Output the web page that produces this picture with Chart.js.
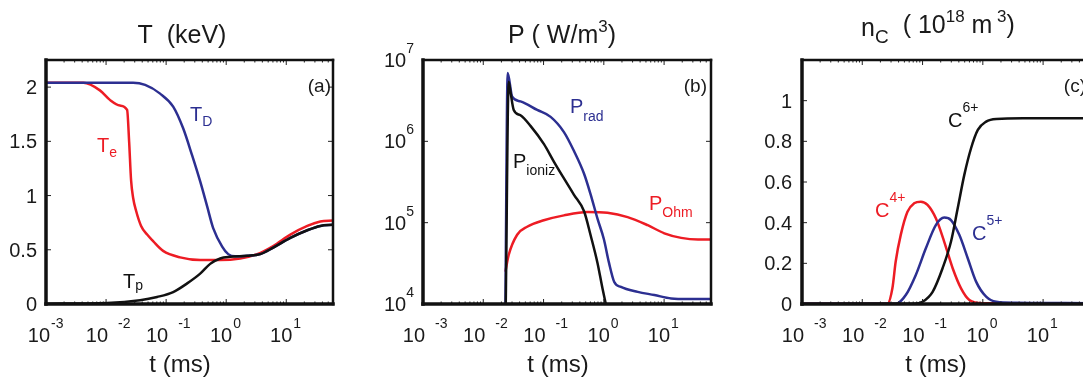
<!DOCTYPE html>
<html>
<head>
<meta charset="utf-8">
<title>T, P and n_C versus t</title>
<script src="https://cdn.jsdelivr.net/npm/chart.js@4.4.1/dist/chart.umd.min.js"></script>
<style>
  html, body { margin: 0; padding: 0; background: #fff; width: 1083px; height: 388px; overflow: hidden; position: relative; }
  canvas { position: absolute; top: 0; }
</style>
</head>
<body>
<canvas id="panelA" width="361" height="388" style="left:0px"></canvas>
<canvas id="panelB" width="361" height="388" style="left:361px"></canvas>
<canvas id="panelC" width="400" height="388" style="left:722px"></canvas>
<script>
// shared x axis (t in ms, log)
const xTicks = [0.001, 0.01, 0.1, 1, 10];
const xTickExps = ['-3', '-2', '-1', '0', '1'];
const tMin = 0.001, tMax = 60;

// (a) temperatures, keV
const tTe = [0.001, 0.0042, 0.0079, 0.0117, 0.017, 0.0224, 0.0242, 0.0261, 0.0282, 0.0316, 0.0383, 0.0483, 0.0607, 0.089, 0.171, 0.369, 0.79, 1.71, 3.29, 6.07, 11.7, 22.4, 36.9, 60];
const Te  = [2.04, 2.04, 1.97, 1.88, 1.83, 1.79, 1.5, 1.14, 0.98, 0.86, 0.72, 0.64, 0.58, 0.49, 0.43, 0.405, 0.405, 0.42, 0.46, 0.535, 0.64, 0.72, 0.76, 0.77];
const tTD = [0.001, 0.0282, 0.0447, 0.0794, 0.131, 0.192, 0.271, 0.369, 0.482, 0.607, 0.857, 1.08, 1.41, 2.24, 3.69, 6.07, 11.7, 22.4, 36.9, 60];
const TD  = [2.04, 2.04, 2.02, 1.94, 1.82, 1.62, 1.37, 1.13, 0.9, 0.7, 0.53, 0.46, 0.44, 0.445, 0.46, 0.52, 0.61, 0.68, 0.72, 0.73];
const tTp = [0.001, 0.0104, 0.0369, 0.0708, 0.131, 0.224, 0.369, 0.541, 0.794, 1.17, 2.24, 3.69, 6.07, 11.7, 22.4, 36.9, 60];
const Tp  = [0.003, 0.01, 0.035, 0.065, 0.11, 0.19, 0.28, 0.37, 0.42, 0.435, 0.445, 0.46, 0.52, 0.61, 0.68, 0.72, 0.73];
const yTicksA = [0, 0.5, 1, 1.5, 2];
const yLabelsA = ['0', '0.5', '1', '1.5', '2'];

// (b) power densities, W/m^3
const tPrad = [0.0233, 0.0254, 0.0301, 0.0414, 0.0785, 0.131, 0.218, 0.32, 0.47, 0.607, 0.785, 1.0, 1.22, 1.49, 1.92, 3.65, 6.89, 13.1, 24.8, 60];
const Prad  = [1e4, 6.9e6, 3.55e6, 3.1e6, 2.43e6, 2.0e6, 1.3e6, 7.6e5, 4.0e5, 2.2e5, 1.12e5, 6.3e4, 3.2e4, 1.86e4, 1.62e4, 1.41e4, 1.29e4, 1.17e4, 1.15e4, 1.15e4];
const tPion = [0.0236, 0.0264, 0.0282, 0.032, 0.0414, 0.0607, 0.101, 0.149, 0.218, 0.32, 0.47, 0.607, 0.785, 0.951, 1.08];
const Pion  = [1e4, 5.4e6, 4.1e6, 2.43e6, 2.09e6, 1.55e6, 9.3e5, 5.6e5, 3.5e5, 2.2e5, 1.38e5, 6.9e4, 3.2e4, 1.55e4, 1.0e4];
const tPohm = [0.0233, 0.0264, 0.0365, 0.0535, 0.101, 0.218, 0.535, 1.15, 2.48, 5.35, 10.1, 19.2, 36.5, 60];
const Pohm  = [2.5e4, 4.0e4, 7.1e4, 8.9e4, 1.07e5, 1.23e5, 1.35e5, 1.32e5, 1.17e5, 9.3e4, 7.4e4, 6.5e4, 6.2e4, 6.2e4];
const yTicksB = [1e4, 1e5, 1e6, 1e7];
const yExpsB = ['4', '5', '6', '7'];

// (c) carbon charge states, 10^18 m^-3
const tC4 = [0.001, 0.0261, 0.0316, 0.0359, 0.0435, 0.0562, 0.0724, 0.0937, 0.121, 0.167, 0.229, 0.316, 0.435, 0.598, 1.0, 60];
const C4  = [0.001, 0.001, 0.077, 0.21, 0.34, 0.454, 0.495, 0.503, 0.487, 0.42, 0.306, 0.176, 0.077, 0.02, 0.004, 0.002];
const tC5 = [0.001, 0.0359, 0.0527, 0.0773, 0.1135, 0.167, 0.229, 0.296, 0.407, 0.562, 0.773, 1.135, 1.667, 3.59, 60];
const C5  = [0.001, 0.001, 0.044, 0.143, 0.274, 0.389, 0.425, 0.413, 0.34, 0.225, 0.11, 0.036, 0.011, 0.006, 0.004];
const tC6 = [0.001, 0.0724, 0.1, 0.147, 0.215, 0.296, 0.383, 0.493, 0.638, 0.826, 1.135, 1.667, 4.64, 60];
const C6  = [0, 0.001, 0.011, 0.06, 0.176, 0.306, 0.471, 0.635, 0.766, 0.856, 0.897, 0.91, 0.913, 0.913];
const yTicksC = [0, 0.2, 0.4, 0.6, 0.8, 1];
const yLabelsC = ['0', '0.2', '0.4', '0.6', '0.8', '1'];

const FONT = '"Liberation Sans", Arial, Helvetica, sans-serif';
const RED = 'rgb(237,28,36)', BLUE = 'rgb(44,47,145)', BLACK = '#111111', TEXT = '#1a1a1a';

function pts(ts, vs) { return ts.map((t, i) => ({ x: t, y: vs[i] })); }

// draws pieces of text [text, size, dy] one after the other
function drawRuns(ctx, x, y, runs, color, align) {
  let w = 0;
  for (const r of runs) { ctx.font = r[1] + 'px ' + FONT; w += ctx.measureText(r[0]).width; }
  if (align === 'center') x -= w / 2;
  if (align === 'right') x -= w;
  ctx.fillStyle = color;
  ctx.textAlign = 'left';
  ctx.textBaseline = 'alphabetic';
  for (const r of runs) {
    ctx.font = r[1] + 'px ' + FONT;
    ctx.fillText(r[0], x, y + (r[2] || 0));
    x += ctx.measureText(r[0]).width;
  }
}

// per panel text, positions are canvas pixels
const panels = {
  panelA: {
    title: [['T  (keV)', 25]], titleX: 182, titleY: 43,
    yTicks: yTicksA, yRuns: yLabelsA.map(s => [[s, 20]]), yRight: 37,
    xTitleX: 180, tag: ['(a)', 331, 92], firstLabelTight: true,
    notes: [
      { x: 190, y: 121, c: BLUE, runs: [['T', 20], ['D', 14, 5]] },
      { x: 97, y: 152, c: RED, runs: [['T', 20], ['e', 14, 5]] },
      { x: 123, y: 288, c: BLACK, runs: [['T', 20], ['p', 14, 2]] }
    ]
  },
  panelB: {
    title: [['P ( W/m', 25], ['3', 17, -11], [')', 25]], titleX: 201, titleY: 43,
    yTicks: yTicksB, yRuns: yExpsB.map(e => [['10', 20], [e, 14, -14]]), yRight: 53,
    xTitleX: 197, tag: ['(b)', 346, 92],
    notes: [
      { x: 209, y: 113, c: BLUE, runs: [['P', 20], ['rad', 14, 8]] },
      { x: 152, y: 168, c: BLACK, runs: [['P', 20], ['ioniz', 14, 7]] },
      { x: 288, y: 210, c: RED, runs: [['P', 20], ['Ohm', 14, 7]] }
    ]
  },
  panelC: {
    title: [['n', 25, 3], ['C', 19, 10], ['  ( 10', 25], ['18', 17, -11], [' m', 25], [' 3', 17, -11], [')', 25]],
    titleX: 216, titleY: 33,
    yTicks: yTicksC, yRuns: yLabelsC.map(s => [[s, 20]]), yRight: 70,
    xTitleX: 214, tag: ['(c)', 364, 92],
    notes: [
      { x: 226, y: 127, c: BLACK, runs: [['C', 20], ['6+', 14, -15]] },
      { x: 153, y: 217, c: RED, runs: [['C', 20], ['4+', 14, -15]] },
      { x: 250, y: 240, c: BLUE, runs: [['C', 20], ['5+', 14, -15]] }
    ]
  }
};

function line(ctx, x1, y1, x2, y2) { ctx.beginPath(); ctx.moveTo(x1, y1); ctx.lineTo(x2, y2); ctx.stroke(); }

const matlabBox = {
  id: 'matlabBox',
  afterDraw(chart) {
    const p = panels[chart.canvas.id];
    const { ctx, chartArea: a, scales: { x, y } } = chart;
    ctx.save();
    // tick marks, inside the box
    ctx.strokeStyle = '#222'; ctx.lineWidth = 1;
    for (let d = 0.001; d < tMax; d *= 10) {
      for (let k = 2; k <= 9; k++) {
        const v = k * d;
        if (v >= tMax) break;
        const px = x.getPixelForValue(v);
        line(ctx, px, a.bottom, px, a.bottom - 2.5);
        line(ctx, px, a.top, px, a.top + 2.5);
      }
    }
    xTicks.forEach(v => {
      const px = x.getPixelForValue(v);
      line(ctx, px, a.bottom, px, a.bottom - 5);
      line(ctx, px, a.top, px, a.top + 5);
    });
    p.yTicks.forEach(v => {
      const py = y.getPixelForValue(v);
      line(ctx, a.left, py, a.left + 5, py);
      line(ctx, a.right, py, a.right - 5, py);
    });
    // box
    ctx.strokeStyle = '#111'; ctx.lineCap = 'square';
    ctx.lineWidth = 3.5;
    line(ctx, a.left, a.top, a.left, a.bottom);
    line(ctx, a.left, a.bottom, a.right, a.bottom);
    ctx.lineWidth = 2.5;
    line(ctx, a.left, a.top, a.right, a.top);
    line(ctx, a.right, a.top, a.right, a.bottom);
    // y tick labels
    p.yTicks.forEach((v, i) => {
      drawRuns(ctx, p.yRight, y.getPixelForValue(v) + 7, p.yRuns[i], TEXT, 'right');
    });
    // x tick labels, 10 with the exponent set high
    xTicks.forEach((v, i) => {
      const px = x.getPixelForValue(v);
      const neg = xTickExps[i].startsWith('-');
      const tight = i === 0 && p.firstLabelTight;
      const r = px + (tight ? 4 : neg ? 2 : 6);
      drawRuns(ctx, r, 342, [['10', 20]], TEXT, 'right');
      drawRuns(ctx, r + (neg && !tight ? 10 : 1), 328, [[xTickExps[i], 14]], TEXT, 'left');
    });
    // titles
    drawRuns(ctx, p.titleX, p.titleY, p.title, TEXT, 'center');
    drawRuns(ctx, p.xTitleX, 372, [['t (ms)', 24]], TEXT, 'center');
    drawRuns(ctx, p.tag[1], p.tag[2], [[p.tag[0], 19]], TEXT, 'right');
    p.notes.forEach(n => drawRuns(ctx, n.x, n.y, n.runs, n.c, 'left'));
    ctx.restore();
  }
};

function lineSet(label, data, color) {
  return {
    label, data, borderColor: color, borderWidth: 2.5,
    pointRadius: 0, fill: false, cubicInterpolationMode: 'monotone'
  };
}

function makeChart(id, datasets, yScale, pad) {
  new Chart(document.getElementById(id), {
    type: 'line',
    data: { datasets },
    options: {
      responsive: false,
      devicePixelRatio: 1,
      animation: false,
      layout: { padding: pad },
      plugins: { legend: { display: false }, tooltip: { enabled: false } },
      scales: {
        x: { type: 'logarithmic', min: tMin, max: tMax, display: false },
        y: Object.assign({ display: false }, yScale)
      }
    },
    plugins: [matlabBox]
  });
}

makeChart('panelA', [
  lineSet('Tp', pts(tTp, Tp), BLACK),
  lineSet('TD', pts(tTD, TD), BLUE),
  lineSet('Te', pts(tTe, Te), RED)
], { type: 'linear', min: 0, max: 2.25 }, { left: 46, right: 28, top: 60, bottom: 84 });

makeChart('panelB', [
  lineSet('P ioniz', pts(tPion, Pion), BLACK),
  lineSet('P rad', pts(tPrad, Prad), BLUE),
  lineSet('P Ohm', pts(tPohm, Pohm), RED)
], { type: 'logarithmic', min: 1e4, max: 1e7 }, { left: 62, right: 11, top: 60, bottom: 84 });

makeChart('panelC', [
  lineSet('C6+', pts(tC6, C6), BLACK),
  lineSet('C5+', pts(tC5, C5), BLUE),
  lineSet('C4+', pts(tC4, C4), RED)
], { type: 'linear', min: 0, max: 1.2 }, { left: 80, right: 32, top: 60, bottom: 84 });
</script>
</body>
</html>
